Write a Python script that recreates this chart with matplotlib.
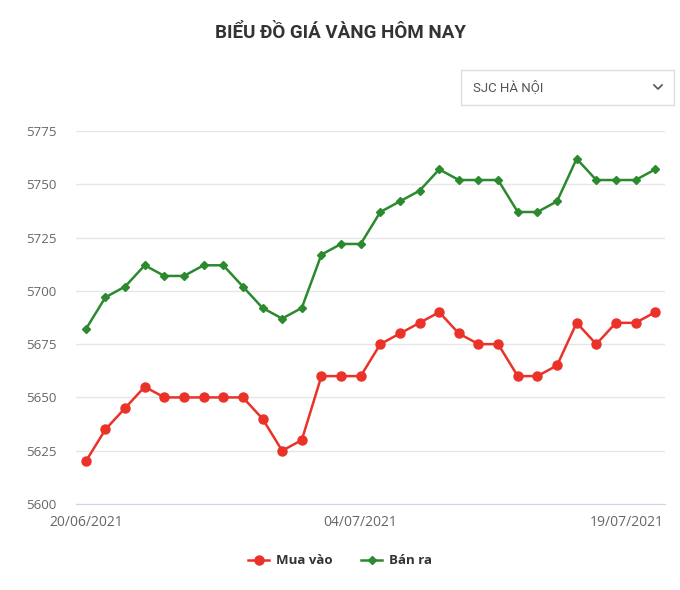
import matplotlib.pyplot as plt
from matplotlib.patches import Rectangle
from matplotlib.lines import Line2D
from matplotlib.transforms import ScaledTranslation

# gold price, 20/06/2021 .. 19/07/2021 (x1000 VND / chi)
days = list(range(30))
mua_vao = [5620, 5635, 5645, 5655, 5650, 5650, 5650, 5650, 5650, 5640,
           5625, 5630, 5660, 5660, 5660, 5675, 5680, 5685, 5690, 5680,
           5675, 5675, 5660, 5660, 5665, 5685, 5675, 5685, 5685, 5690]
ban_ra = [5682, 5697, 5702, 5712, 5707, 5707, 5712, 5712, 5702, 5692,
          5687, 5692, 5717, 5722, 5722, 5737, 5742, 5747, 5757, 5752,
          5752, 5752, 5737, 5737, 5742, 5762, 5752, 5752, 5752, 5757]
x_ticks = [0, 14, 29]
x_labels = ['20/06/2021', '04/07/2021', '19/07/2021']
y_ticks = [5600, 5625, 5650, 5675, 5700, 5725, 5750, 5775]

plt.rcParams['font.family'] = ['Open Sans', 'DejaVu Sans']

red = '#ea3229'
green = '#2b8a2e'

fig = plt.figure(figsize=(6.8, 5.9), dpi=100)
ax = fig.add_axes([76 / 680, 1 - 504 / 590, (665 - 76) / 680, (504 - 131) / 590])

ax.plot(days, mua_vao, '-o', color=red, lw=1.8, ms=6.5, label='Mua vào')
ax.plot(days, ban_ra, '-D', color=green, lw=1.8, ms=4.5, label='Bán ra')

ax.set_xlim(-0.5, 29.5)
ax.set_ylim(5600, 5775)
ax.set_yticks(y_ticks)
ax.set_xticks(x_ticks)
ax.set_xticklabels(x_labels)
ax.grid(axis='y', color='#e6e6e6', lw=1)
ax.set_axisbelow(True)
for s in ['top', 'right', 'left']:
    ax.spines[s].set_visible(False)
ax.spines['bottom'].set_color('#ccd6eb')
ax.tick_params(axis='both', length=0, colors='#666666')
ax.tick_params(axis='y', pad=14, labelsize=9.5)
ax.tick_params(axis='x', pad=8, labelsize=10)
for lbl in ax.get_xticklabels():
    lbl.set_fontstretch('expanded')

# last label pushed inside like the web chart
last = ax.get_xticklabels()[-1]
last.set_horizontalalignment('right')
last.set_transform(last.get_transform() + ScaledTranslation(0.09, 0, fig.dpi_scale_trans))

fig.text(0.5, 1 - 33 / 590, 'BIỂU ĐỒ GIÁ VÀNG HÔM NAY', ha='center', va='center',
         fontsize=13.5, fontweight='bold', color='#333333', family=['Roboto', 'DejaVu Sans'])

# dropdown box
fig.patches.append(Rectangle((461 / 680, 1 - 105 / 590), 213 / 680, 35 / 590,
                             transform=fig.transFigure, fill=False, ec='#dddddd', lw=1))
fig.text(473 / 680, 1 - 87 / 590, 'SJC HÀ NỘI', ha='left', va='center',
         fontsize=9.5, color='#555555', family=['Roboto', 'DejaVu Sans'])
fig.lines.append(Line2D([654 / 680, 658 / 680, 662 / 680],
                        [1 - 85 / 590, 1 - 89 / 590, 1 - 85 / 590],
                        transform=fig.transFigure, color='#555555', lw=1.2))

fig.legend(loc='center', bbox_to_anchor=(0.5, 1 - 561 / 590), ncol=2, frameon=False,
           handlelength=1.6, columnspacing=2.2, handletextpad=0.5,
           prop={'weight': 'bold', 'size': 9.5}, labelcolor='#333333')

fig.savefig('out.png', dpi=100, facecolor='white')
